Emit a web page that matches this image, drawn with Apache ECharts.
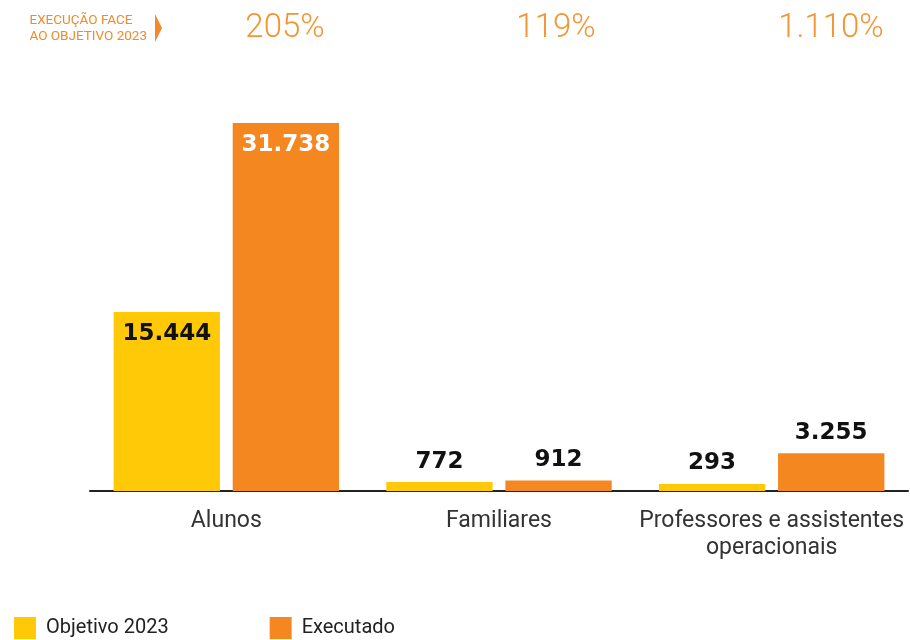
<!DOCTYPE html>
<html><head><meta charset="utf-8">
<script src="https://cdn.jsdelivr.net/npm/echarts@6/dist/echarts.min.js"></script>
<style>html,body{margin:0;padding:0;background:#fff}#c{width:910px;height:640px}</style>
</head><body><div id="c"></div>
<script>
const categories = ['Alunos', 'Familiares', 'Professores e assistentes\noperacionais'];
const objetivo = [15444, 772, 293];
const executado = [31738, 912, 3255];
const execucao = ['205%', '119%', '1.110%'];
const seriesNames = ['Objetivo 2023', 'Executado'];

const fmt = v => v.toLocaleString('de-DE');
const chart = echarts.init(document.getElementById('c'), null, {renderer: 'canvas'});
function mkData(arr, isExec) {
  return arr.map((v, i) => ({
    value: v,
    label: i === 0 ? {position: 'insideTop', distance: 11, color: isExec ? '#fff' : '#111'} : {position: 'top', distance: 9, color: '#111'}
  }));
}
const graphics = [
  {type: 'text', right: 910 - 147, top: 13, style: {text: 'EXECUÇÃO FACE\nAO OBJETIVO 2023', fill: '#F5892A', font: '13.5px Roboto', align: 'right', lineHeight: 16}},
  {type: 'polygon', shape: {points: [[155, 14], [162, 28], [155, 42]]}, style: {fill: '#F5892A'}}
];
const pctX = [285, 556, 831];
execucao.forEach((t, i) => graphics.push({type: 'text', x: pctX[i], y: 29, style: {text: t, fill: '#F39533', font: '300 33px Roboto', align: 'center', verticalAlign: 'middle'}}));

chart.setOption({
  animation: false,
  textStyle: {fontFamily: 'Roboto'},
  grid: {left: 90, right: 2, top: 123, bottom: 149, containLabel: false},
  legend: {
    left: 9, top: 612, itemWidth: 22, itemHeight: 22, itemGap: 101, icon: 'rect',
    textStyle: {fontSize: 20, color: '#222', fontFamily: 'Roboto', padding: [0, 0, 0, 5]},
    data: seriesNames
  },
  xAxis: {
    type: 'category', data: categories,
    axisLine: {lineStyle: {color: '#222', width: 2}},
    axisTick: {show: false},
    axisLabel: {fontSize: 23, color: '#333', margin: 17, lineHeight: 27, fontFamily: 'Roboto', interval: 0}
  },
  yAxis: {type: 'value', min: 0, max: 'dataMax', show: false, splitLine: {show: false}},
  graphic: graphics,
  series: [
    {name: seriesNames[0], type: 'bar', data: mkData(objetivo, false), barWidth: '39%', barGap: '12%', barMinHeight: 7,
     itemStyle: {color: '#FFC907'},
     label: {show: true, formatter: p => fmt(p.value), fontSize: 23, fontWeight: 'bold', fontFamily: 'DejaVu Sans'}},
    {name: seriesNames[1], type: 'bar', data: mkData(executado, true), barWidth: '39%', barGap: '12%', barMinHeight: 7,
     itemStyle: {color: '#F58720'},
     label: {show: true, formatter: p => fmt(p.value), fontSize: 23, fontWeight: 'bold', fontFamily: 'DejaVu Sans'}}
  ]
});
</script></body></html>
